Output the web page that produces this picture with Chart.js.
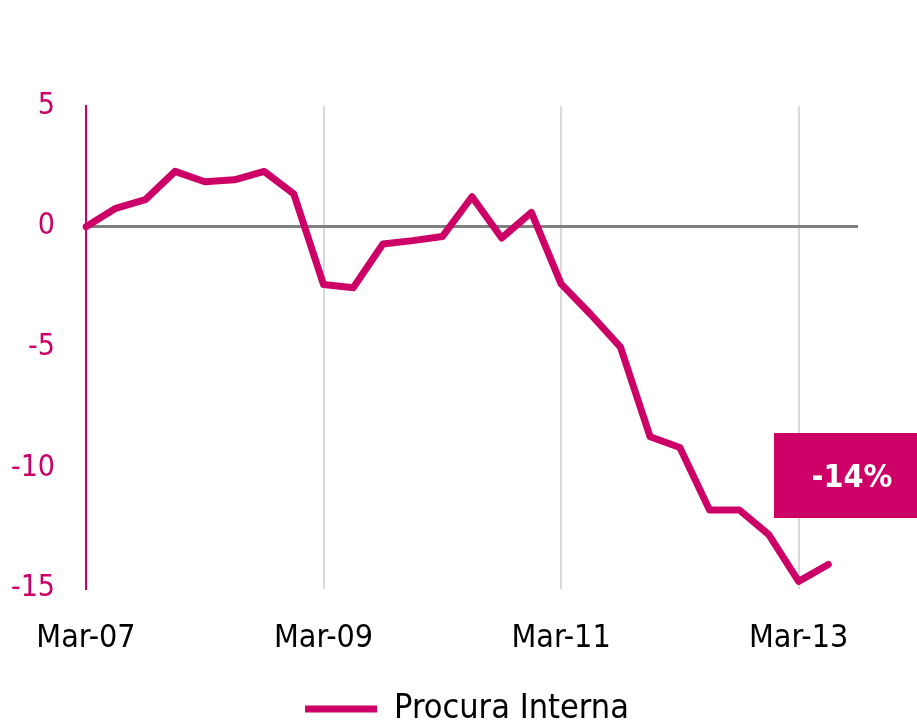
<!DOCTYPE html>
<html>
<head>
<meta charset="utf-8">
<script src="https://cdn.jsdelivr.net/npm/chart.js@4/dist/chart.umd.min.js"></script>
<style>
  html, body { margin: 0; padding: 0; background: #fff; }
  #wrap { width: 917px; height: 722px; }
</style>
</head>
<body>
<div id="wrap"><canvas id="c" width="917" height="722"></canvas></div>
<script>
const categories = ['Mar-07','Jun-07','Sep-07','Dec-07','Mar-08','Jun-08','Sep-08','Dec-08',
  'Mar-09','Jun-09','Sep-09','Dec-09','Mar-10','Jun-10','Sep-10','Dec-10',
  'Mar-11','Jun-11','Sep-11','Dec-11','Mar-12','Jun-12','Sep-12','Dec-12',
  'Mar-13','Jun-13','Sep-13'];
const procuraInterna = [0, 0.76, 1.12, 2.29, 1.86, 1.94, 2.29, 1.35,
  -2.40, -2.53, -0.72, -0.58, -0.41, 1.24, -0.47, 0.59,
  -2.37, -3.64, -4.99, -8.71, -9.15, -11.74, -11.74, -12.77,
  -14.7, -14.0, null];
const yTicks = [5, 0, -5, -10, -15];
const seriesName = 'Procura Interna';
const calloutText = '-14%';

const PINK = '#cc0066';
const FONT = '"DejaVu Sans Condensed", "Liberation Sans Narrow", "DejaVu Sans", sans-serif';

const callout = {
  id: 'callout',
  afterLayout(chart) {
    if (chart.legend) { chart.legend.left += 38; chart.legend.right += 38; }
  },
  afterDraw(chart) {
    const ctx = chart.ctx;
    ctx.save();
    ctx.fillStyle = PINK;
    ctx.fillRect(774, 433, 143, 85);
    ctx.fillStyle = '#ffffff';
    ctx.font = 'bold 32px ' + FONT;
    ctx.textAlign = 'center';
    ctx.textBaseline = 'middle';
    ctx.fillText(calloutText, 852, 479);
    ctx.restore();
  }
};

new Chart(document.getElementById('c'), {
  type: 'line',
  data: {
    labels: categories,
    datasets: [{
      label: seriesName,
      data: procuraInterna,
      borderColor: PINK,
      backgroundColor: PINK,
      borderWidth: 7,
      pointRadius: 0,
      tension: 0,
      borderJoinStyle: 'round',
      borderCapStyle: 'round',
      spanGaps: false
    }]
  },
  options: {
    responsive: false,
    animation: false,
    layout: { padding: { top: 106, right: 59, left: 0, bottom: -14 } },
    plugins: {
      tooltip: { enabled: false },
      legend: {
        position: 'bottom',
        labels: {
          usePointStyle: true,
          pointStyle: 'line',
          pointStyleWidth: 72,
          boxHeight: 7,
          color: '#000',
          font: { family: FONT, size: 34 },
          padding: 3
        }
      }
    },
    scales: {
      x: {
        type: 'category',
        offset: false,
        border: { display: false },
        grid: {
          drawTicks: false,
          lineWidth: 2,
          color: (c) => (c.index === 8 || c.index === 16 || c.index === 24) ? '#d9d9d9' : 'rgba(0,0,0,0)'
        },
        ticks: {
          autoSkip: false,
          maxRotation: 0,
          padding: 31,
          color: '#000',
          font: { family: FONT, size: 32 },
          callback: function(v, i) { return i % 8 === 0 ? categories[i] : ''; }
        }
      },
      y: {
        min: -15,
        max: 5,
        afterBuildTicks: (s) => { s.ticks = yTicks.map(v => ({ value: v })); },
        afterFit: (s) => { s.width = 86; },
        border: { display: true, color: PINK, width: 2 },
        grid: {
          drawTicks: false,
          lineWidth: 3,
          color: (c) => (c.tick && c.tick.value === 0) ? '#808080' : 'rgba(0,0,0,0)'
        },
        ticks: {
          padding: 31,
          color: PINK,
          font: { family: FONT, size: 30 }
        }
      }
    }
  },
  plugins: [callout]
});
</script>
</body>
</html>
